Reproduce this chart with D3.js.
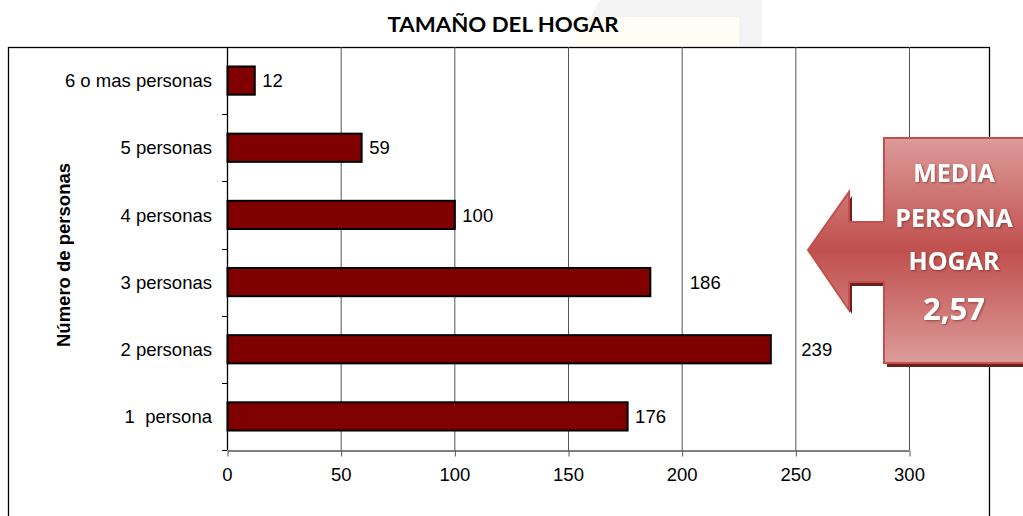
<!DOCTYPE html>
<html>
<head>
<meta charset="utf-8">
<script src="https://cdn.jsdelivr.net/npm/d3@7"></script>
<style>
  body { margin: 0; background: #fff; }
  svg { display: block; }
</style>
</head>
<body>
<div id="chart"></div>
<script>
// datos
const categorias = ['1  persona', '2 personas', '3 personas', '4 personas', '5 personas', '6 o mas personas'];
const hogares = [176, 239, 186, 100, 59, 12];
const ticksX = [0, 50, 100, 150, 200, 250, 300];
const mediaTexto = ['MEDIA', 'PERSONA', 'HOGAR', '2,57'];

const W = 1023, H = 516;
const plot = {l: 227, r: 909, t: 47, b: 450};
const fuente = 'Liberation Sans, Arial, sans-serif';
const tam = 18.5;

const svg = d3.select('#chart').append('svg')
  .attr('width', W)
  .attr('height', H);

const defs = svg.append('defs');
const grad = defs.append('linearGradient')
  .attr('id', 'rojo')
  .attr('x1', 0).attr('y1', 0).attr('x2', 0).attr('y2', 1);
grad.append('stop').attr('offset', '0%').attr('stop-color', '#dc9b9a');
grad.append('stop').attr('offset', '50%').attr('stop-color', '#c0504d');
grad.append('stop').attr('offset', '100%').attr('stop-color', '#dc9b9a');

const sombra = defs.append('filter').attr('id', 'sombraTxt')
  .attr('x', '-20%').attr('y', '-20%').attr('width', '140%').attr('height', '140%');
sombra.append('feDropShadow')
  .attr('dx', 1).attr('dy', 1).attr('stdDeviation', 0.8)
  .attr('flood-color', '#6b2322').attr('flood-opacity', 0.6);

// marca de agua tras el título
svg.append('path')
  .attr('d', 'M575,46 L600,0 L762,0 L762,46 Z')
  .attr('fill', '#f3f3f3');
svg.append('rect')
  .attr('x', 575).attr('y', 17).attr('width', 164).attr('height', 29)
  .attr('fill', '#fffdf4');

// marco
svg.append('rect')
  .attr('x', 8.5).attr('y', plot.t + 0.5)
  .attr('width', 981).attr('height', 520)
  .attr('fill', 'none')
  .attr('stroke', '#000')
  .attr('stroke-width', 1.3);

const x = d3.scaleLinear().domain([0, 300]).range([plot.l, plot.r]);
const y = d3.scaleBand()
  .domain(categorias.slice().reverse())
  .range([plot.t, plot.b])
  .paddingInner(0.58)
  .paddingOuter(0.29);

// líneas de división
svg.append('g')
  .selectAll('line')
  .data(ticksX.slice(1))
  .join('line')
  .attr('x1', d => x(d) + 0.5).attr('x2', d => x(d) + 0.5)
  .attr('y1', plot.t).attr('y2', plot.b)
  .attr('stroke', '#555')
  .attr('stroke-width', 1);

// eje x
const ejeX = svg.append('g')
  .attr('transform', `translate(0,${plot.b + 0.5})`)
  .call(d3.axisBottom(x).tickValues(ticksX).tickSize(6).tickSizeOuter(0).tickPadding(11));
ejeX.select('.domain').attr('stroke', '#000');
ejeX.selectAll('.tick line').attr('stroke', '#555').attr('transform', 'translate(0.5,0)');
ejeX.selectAll('text')
  .attr('font-family', fuente)
  .attr('font-size', tam)
  .attr('fill', '#000');

// barras
svg.append('g')
  .selectAll('rect')
  .data(hogares)
  .join('rect')
  .attr('x', x(0) + 0.5)
  .attr('y', (d, i) => y(categorias[i]))
  .attr('width', d => x(d) - x(0))
  .attr('height', y.bandwidth())
  .attr('fill', '#800000')
  .attr('stroke', '#000')
  .attr('stroke-width', 2);

// eje y
const limites = d3.range(categorias.length + 1).map(i => plot.t + i * (plot.b - plot.t) / categorias.length);
const ejeY = svg.append('g');
ejeY.append('line')
  .attr('x1', plot.l + 0.5).attr('x2', plot.l + 0.5)
  .attr('y1', plot.t).attr('y2', plot.b)
  .attr('stroke', '#000').attr('stroke-width', 1.3);
ejeY.selectAll('.tk')
  .data(limites)
  .join('line')
  .attr('class', 'tk')
  .attr('x1', plot.l - 5).attr('x2', plot.l)
  .attr('y1', d => Math.round(d) + 0.5).attr('y2', d => Math.round(d) + 0.5)
  .attr('stroke', '#000');
ejeY.selectAll('text')
  .data(categorias)
  .join('text')
  .attr('x', 212)
  .attr('y', d => y(d) + y.bandwidth() / 2)
  .attr('dy', '0.36em')
  .attr('text-anchor', 'end')
  .attr('font-family', fuente)
  .attr('font-size', tam)
  .style('white-space', 'pre')
  .text(d => d);

// etiquetas de valor (Excel separa algunas del final de la barra)
const separacion = {'3 personas': 40, '2 personas': 31};
svg.append('g')
  .selectAll('text')
  .data(hogares)
  .join('text')
  .attr('x', (d, i) => x(d) + (separacion[categorias[i]] || 8))
  .attr('y', (d, i) => y(categorias[i]) + y.bandwidth() / 2)
  .attr('dy', '0.36em')
  .attr('font-family', fuente)
  .attr('font-size', tam)
  .text(d => d);

// títulos
svg.append('text')
  .attr('x', 503).attr('y', 32)
  .attr('text-anchor', 'middle')
  .attr('font-family', 'Lato, sans-serif')
  .attr('font-weight', 'bold')
  .attr('font-size', 21)
  .attr('textLength', 231)
  .attr('lengthAdjust', 'spacingAndGlyphs')
  .text('TAMAÑO DEL HOGAR');

svg.append('text')
  .attr('transform', 'translate(70,255) rotate(-90)')
  .attr('text-anchor', 'middle')
  .attr('font-family', fuente)
  .attr('font-weight', 'bold')
  .attr('font-size', tam)
  .text('Número de personas');

// flecha con la media
const flecha = 'M884,138 L1030,138 L1030,363 L884,363 L884,282 L849,282 L849,310 L808,250 L849,192 L849,222 L884,222 Z';
svg.append('path')
  .attr('d', flecha)
  .attr('transform', 'translate(3,4)')
  .attr('fill', '#6b2120');
svg.append('path')
  .attr('d', flecha)
  .attr('fill', 'url(#rojo)')
  .attr('stroke', '#c4504d')
  .attr('stroke-width', 2);

const lineasY = [182, 227, 270, 320];
svg.append('g')
  .selectAll('text')
  .data(mediaTexto)
  .join('text')
  .attr('x', 954)
  .attr('y', (d, i) => lineasY[i])
  .attr('text-anchor', 'middle')
  .attr('font-family', 'Open Sans, sans-serif')
  .attr('font-weight', 'bold')
  .attr('font-size', (d, i) => i === 3 ? 31 : 25)
  .attr('fill', '#fff')
  .attr('filter', 'url(#sombraTxt)')
  .text(d => d);
</script>
</body>
</html>
